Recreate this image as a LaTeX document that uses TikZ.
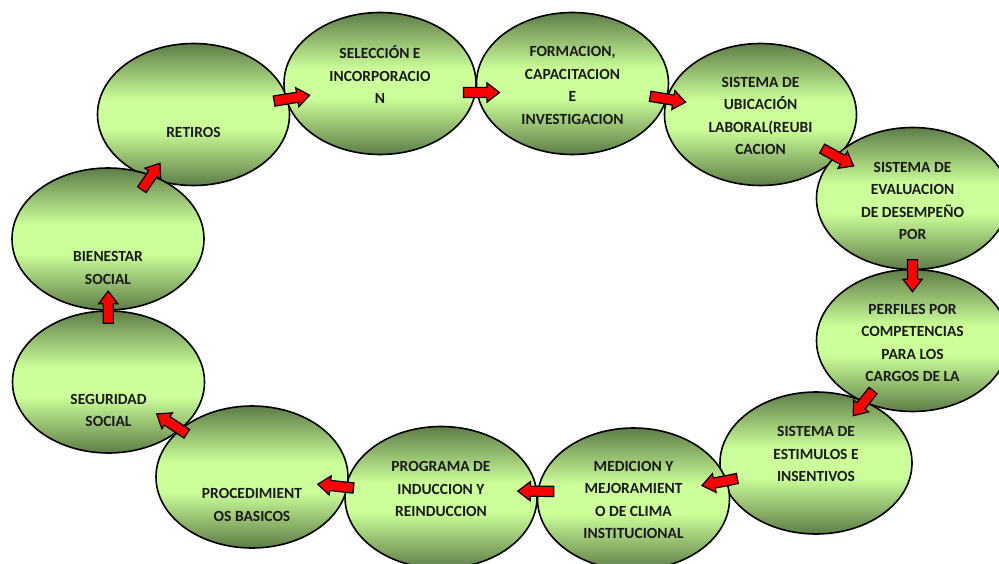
\documentclass[tikz,border=0pt]{standalone}
\usepackage{fontspec}
\setmainfont{Carlito}
\usetikzlibrary{shapes.geometric, shapes.arrows}
\definecolor{ovDark}{HTML}{5E7D47}
\definecolor{ovLight}{HTML}{CCFF99}
\definecolor{ovText}{HTML}{1A1A1A}
\definecolor{arRed}{HTML}{FF0000}
\pgfdeclareverticalshading{ovShade}{100bp}{color(0bp)=(ovDark); color(25bp)=(ovDark);
  color(45bp)=(ovLight); color(55bp)=(ovLight); color(75bp)=(ovDark); color(100bp)=(ovDark)}

\begin{document}
\begin{tikzpicture}[x=1pt, y=-1pt,
  oval/.style={ellipse, draw=black, line width=1.6pt, shade, shading=ovShade,
    minimum width=192pt, minimum height=142pt, inner sep=0pt},
  ovtext/.style={text=ovText, font=\fontsize{15.5}{22.5}\selectfont\bfseries,
    align=center, inner sep=0pt},
  blk/.style={single arrow, draw=black, fill=arRed, line width=1.2pt,
    minimum height=36pt, inner xsep=0pt, inner ysep=4.5pt,
    single arrow head extend=4.5pt, single arrow tip angle=75,
    sloped, allow upside down}]
\useasboundingbox (0,0) rectangle (999,564);

\node[oval] (e1) at (193.5,114.5) {};
\node[oval] (e2) at (380,83.5) {};
\node[oval] (e3) at (572.5,83.5) {};
\node[oval] (e4) at (760.5,114.5) {};
\node[oval] (e5) at (912.5,198.5) {};
\node[oval] (e6) at (912.5,340.5) {};
\node[oval] (e7) at (816,463) {};
\node[oval] (e8) at (633.5,499) {};
\node[oval] (e9) at (441,497.5) {};
\node[oval] (e12) at (108,239) {};
\node[oval] (e11) at (108.5,382) {};
\node[oval] (e10) at (252,477) {};

\node[ovtext] (t1) at ([yshift=-17.5pt]e1.center) {RETIROS};
\node[ovtext] (t2) at ([yshift=9pt]e2.center) {SELECCIÓN E\\INCORPORACIO\\N};
\node[ovtext] (t3) at ([yshift=-2pt]e3.center) {FORMACION,\\CAPACITACION\\E\\INVESTIGACION};
\node[ovtext] (t4) at ([yshift=-1.5pt]e4.center) {SISTEMA DE\\UBICACIÓN\\LABORAL(REUBI\\CACION};
\node[ovtext] (t5) at ([yshift=-2.5pt]e5.center) {SISTEMA DE\\EVALUACION\\DE DESEMPEÑO\\POR};
\node[ovtext] (t6) at ([yshift=-2.5pt]e6.center) {PERFILES POR\\COMPETENCIAS\\PARA LOS\\CARGOS DE LA};
\node[ovtext] (t7) at ([yshift=9pt]e7.center) {SISTEMA DE\\ESTIMULOS E\\INSENTIVOS};
\node[ovtext] (t8) at ([yshift=-1pt]e8.center) {MEDICION Y\\MEJORAMIENT\\O DE CLIMA\\INSTITUCIONAL};
\node[ovtext] (t9) at ([yshift=8.5pt]e9.center) {PROGRAMA DE\\INDUCCION Y\\REINDUCCION};
\node[ovtext] (t10) at ([yshift=-28pt]e10.center) {PROCEDIMIENT\\OS BASICOS};
\node[ovtext] (t11) at ([yshift=-28.5pt]e11.center) {SEGURIDAD\\SOCIAL};
\node[ovtext] (t12) at ([yshift=-29pt]e12.center) {BIENESTAR\\SOCIAL};

\path (e12.center) -- (e1.center) node[blk, pos=.48, minimum height=32pt] (a12) {};
\path (e1.center) -- (e2.center) node[blk, pos=.51] (a1) {};
\path ([yshift=-9pt]e2.center) -- ([yshift=-9pt]e3.center) node[blk, pos=.51] (a2) {};
\path (e3.center) -- (e4.center) node[blk, pos=.49] (a3) {};
\path (e4.center) -- (e5.center) node[blk, pos=.49] (a4) {};
\path (e5.center) -- (e6.center) node[blk, pos=.52, minimum height=32pt] (a5) {};
\path (e6.center) -- (e7.center) node[blk, pos=.49, minimum height=32pt] (a6) {};
\path (e7.center) -- (e8.center) node[blk, pos=.51] (a7) {};
\path ([yshift=7pt]e8.center) -- ([yshift=7pt]e9.center) node[blk, pos=.49] (a8) {};
\path (e9.center) -- (e10.center) node[blk, pos=.54] (a9) {};
\path (e10.center) -- (e11.center) node[blk, pos=.54] (a10) {};
\path (e11.center) -- (e12.center) node[blk, pos=.5, minimum height=32pt] (a11) {};
\end{tikzpicture}
\end{document}
